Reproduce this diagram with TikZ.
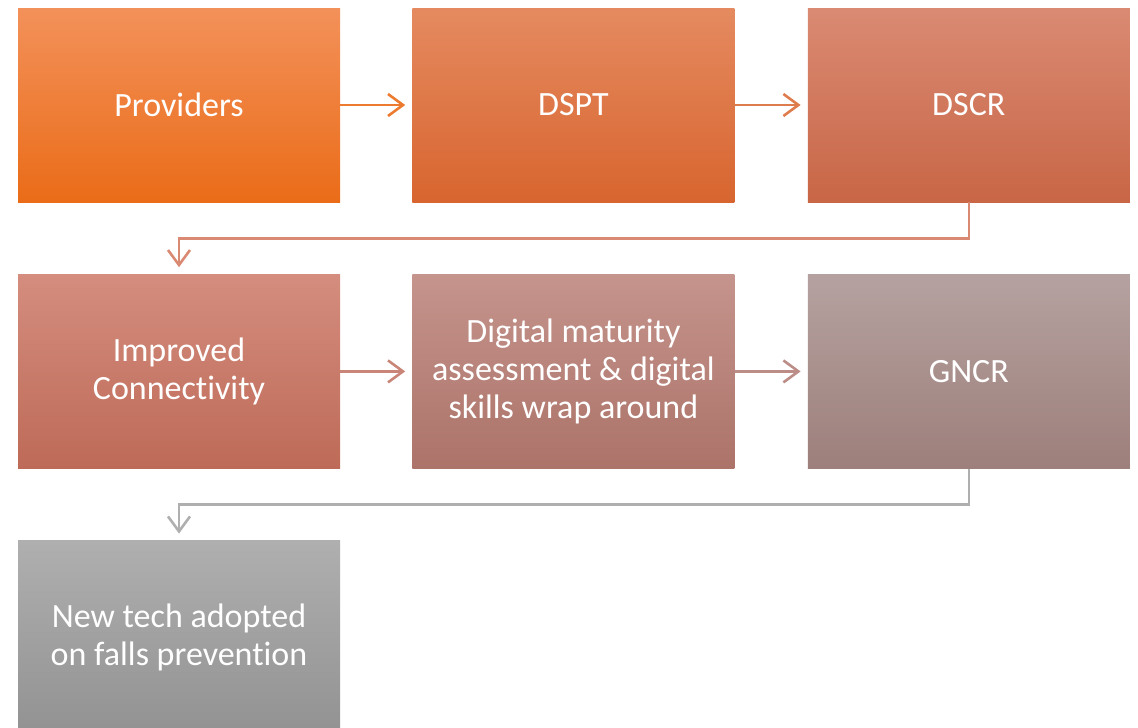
\documentclass[tikz,border=0pt]{standalone}
\usepackage{fontspec}
\setmainfont[Ligatures={NoCommon,NoContextual,NoRare}]{Carlito}
\usetikzlibrary{positioning, arrows.meta}

% colours of the stages, light at the top, dark at the bottom
\definecolor{provtop}{HTML}{F3915A}
\definecolor{provbot}{HTML}{EA6C18}
\definecolor{dspttop}{HTML}{E58A60}
\definecolor{dsptbot}{HTML}{D8652F}
\definecolor{dscrtop}{HTML}{DA8A73}
\definecolor{dscrbot}{HTML}{C86646}
\definecolor{conntop}{HTML}{D48D7E}
\definecolor{connbot}{HTML}{BE6A58}
\definecolor{dmatop}{HTML}{C5948D}
\definecolor{dmabot}{HTML}{AC7369}
\definecolor{gncrtop}{HTML}{B5A2A0}
\definecolor{gncrbot}{HTML}{9D7F7B}
\definecolor{techtop}{HTML}{AFAFAF}
\definecolor{techbot}{HTML}{929292}

\begin{document}
\begin{tikzpicture}[
    x=1pt, y=1pt,
    node distance=72pt,
    stage/.style={rectangle, minimum width=322pt, minimum height=194pt,
      inner sep=0pt, align=center, text=white,
      font=\fontsize{34}{38}\selectfont},
    link/.style={-{Straight Barb[length=15pt, width=22pt]}, line width=2.6pt,
      shorten >=7pt}
  ]
  \useasboundingbox (0,0) rectangle (1138,-728);

  % --- first row ---
  \node[stage, top color=provtop, bottom color=provbot] (prov) at (179,-105) {Providers};
  \node[stage, top color=dspttop, bottom color=dsptbot, right=of prov] (dspt) {DSPT};
  \node[stage, top color=dscrtop, bottom color=dscrbot, right=73pt of dspt] (dscr) {DSCR};

  % --- second row ---
  \node[stage, top color=conntop, bottom color=connbot, below=of prov] (conn) {Improved\\Connect\kern0pt ivity};
  \node[stage, top color=dmatop, bottom color=dmabot, right=of conn] (dma) {Digital maturity\\assessment \& digital\\skills wrap around};
  \node[stage, top color=gncrtop, bottom color=gncrbot, right=73pt of dma] (gncr) {GNCR};

  % --- last row ---
  \node[stage, top color=techtop, bottom color=techbot, below=of conn] (tech) {New tech adopted\\on falls prevention};

  % --- links ---
  \draw[link, color=provbot!90!white] (prov) -- (dspt);
  \draw[link, color=dsptbot!85!white] (dspt) -- (dscr);
  \draw[link, color=dscrtop] (dscr.south) -- ++(0,-36) -| (conn.north);
  \draw[link, color=conntop!95!black] (conn) -- (dma);
  \draw[link, color=dmatop!95!black] (dma) -- (gncr);
  \draw[link, color=techtop] (gncr.south) -- ++(0,-36) -| (tech.north);

\end{tikzpicture}
\end{document}
